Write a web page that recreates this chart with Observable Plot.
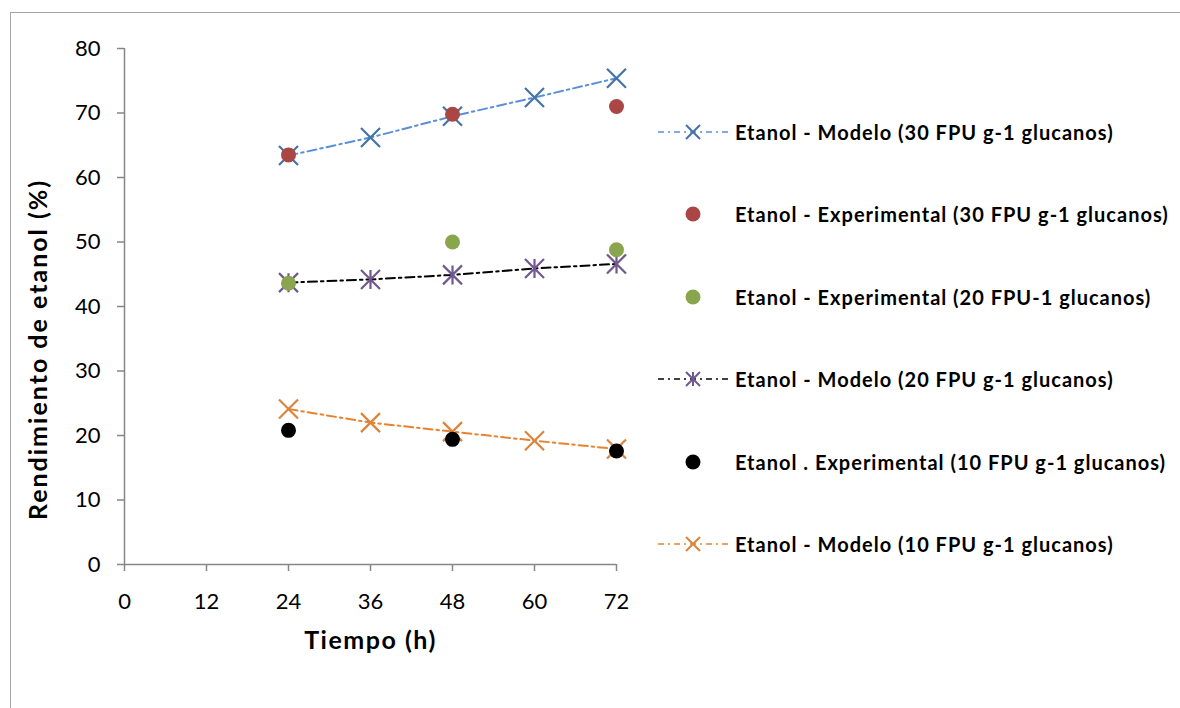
<!DOCTYPE html>
<html>
<head>
<meta charset="utf-8">
<script src="https://cdn.jsdelivr.net/npm/d3@7"></script>
<script src="https://cdn.jsdelivr.net/npm/@observablehq/plot@0.6"></script>
<style>
  body { margin: 0; background: #fff; font-family: Lato, "Open Sans", sans-serif; }
  #wrap { position: relative; width: 1180px; height: 708px; overflow: hidden; background: #fff; }
  #frame { position: absolute; left: 10px; top: 12px; right: -10px; bottom: -10px;
           border-left: 1.5px solid #a6a6a6; border-top: 1.5px solid #a6a6a6; }
  #chart { position: absolute; left: 0; top: 0; }
  #legend { position: absolute; left: 658px; top: 0; }
  .row { position: absolute; left: 0; display: flex; align-items: center; white-space: nowrap;
         font-weight: bold; font-size: 20px; letter-spacing: 1px; color: #000; height: 24px; }
  .row svg { display: block; margin-right: 7px; overflow: visible; }
</style>
</head>
<body>
<div id="wrap">
  <div id="frame"></div>
  <div id="chart"></div>
  <div id="legend"></div>
</div>
<script>
// Tiempo de fermentación (h)
const horasModelo = [24, 36, 48, 60, 72];
const horasExp = [24, 48, 72];
const ticksX = [0, 12, 24, 36, 48, 60, 72];
const ticksY = [0, 10, 20, 30, 40, 50, 60, 70, 80];

// Rendimiento de etanol (%)
const modelo30 = [63.4, 66.2, 69.5, 72.4, 75.4];
const exp30 = [63.5, 69.8, 71.0];
const exp20 = [43.6, 50.0, 48.8];
const modelo20 = [43.7, 44.2, 44.9, 45.9, 46.6];
const exp10 = [20.8, 19.4, 17.6];
const modelo10 = [24.1, 22.0, 20.6, 19.2, 17.9];

const nombres = [
  "Etanol - Modelo (30 FPU g-1 glucanos)",
  "Etanol - Experimental (30 FPU g-1 glucanos)",
  "Etanol - Experimental (20 FPU-1 glucanos)",
  "Etanol - Modelo (20 FPU g-1 glucanos)",
  "Etanol . Experimental (10 FPU g-1 glucanos)",
  "Etanol - Modelo (10 FPU g-1 glucanos)"
];

// X-shaped and asterisk markers; arm length equals the dot radius
const symCruz = {
  draw(ctx, size) {
    const r = Math.sqrt(size / Math.PI);
    ctx.moveTo(-r, -r); ctx.lineTo(r, r);
    ctx.moveTo(-r, r); ctx.lineTo(r, -r);
  }
};
const symAsterisco = {
  draw(ctx, size) {
    const r = Math.sqrt(size / Math.PI);
    ctx.moveTo(-r, -r); ctx.lineTo(r, r);
    ctx.moveTo(-r, r); ctx.lineTo(r, -r);
    ctx.moveTo(0, -r); ctx.lineTo(0, r);
  }
};

const series = [
  {nombre: nombres[0], horas: horasModelo, valores: modelo30, tipo: "modelo", linea: "#5b8fd6", marca: "#4572a7", sym: symCruz},
  {nombre: nombres[1], horas: horasExp, valores: exp30, tipo: "exp", marca: "#aa4643"},
  {nombre: nombres[2], horas: horasExp, valores: exp20, tipo: "exp", marca: "#89a54e"},
  {nombre: nombres[3], horas: horasModelo, valores: modelo20, tipo: "modelo", linea: "#000000", marca: "#71588f", sym: symAsterisco},
  {nombre: nombres[4], horas: horasExp, valores: exp10, tipo: "exp", marca: "#000000"},
  {nombre: nombres[5], horas: horasModelo, valores: modelo10, tipo: "modelo", linea: "#e9822f", marca: "#db843d", sym: symCruz}
];
const filas = s => s.horas.map((h, i) => ({hora: h, valor: s.valores[i]}));

const dash = "9,4,2.5,4";
const gris = "#868686";

const marks = [
  Plot.ruleY([0], {stroke: gris, strokeWidth: 1.5}),
  Plot.ruleX([0], {stroke: gris, strokeWidth: 1.5}),
  Plot.axisX({ticks: ticksX, tickSize: 7, tickPadding: 22, stroke: gris, strokeWidth: 1.5, fill: "#000", label: null, tickFormat: d => String(d)}),
  Plot.axisY({ticks: ticksY, tickSize: 7, tickPadding: 17, stroke: gris, strokeWidth: 1.5, fill: "#000", label: null, tickFormat: d => String(d)}),
  Plot.text(["Rendimiento de etanol (%)"], {frameAnchor: "left", rotate: -90, dx: -86, dy: 43, textAnchor: "middle", lineAnchor: "middle",
    fontWeight: "bold", fontSize: 25, style: "letter-spacing: 2px"}),
  Plot.text(["Tiempo (h)"], {frameAnchor: "bottom", dy: 76, textAnchor: "middle", lineAnchor: "middle", fontWeight: "bold", fontSize: 25})
];
// dash-dot model lines first
for (const s of series.filter(s => s.tipo === "modelo")) {
  marks.push(Plot.line(filas(s), {x: "hora", y: "valor", stroke: s.linea, strokeWidth: 2, strokeDasharray: dash}));
}
// model markers
for (const s of series.filter(s => s.tipo === "modelo")) {
  marks.push(Plot.dot(filas(s), {x: "hora", y: "valor", symbol: s.sym, r: 9.5, stroke: s.marca, strokeWidth: 2.2, fill: "none"}));
}
// experimental points on top
for (const s of series.filter(s => s.tipo === "exp")) {
  marks.push(Plot.dot(filas(s), {x: "hora", y: "valor", r: 7.5, fill: s.marca, stroke: "none"}));
}

const chart = Plot.plot({
  width: 650,
  height: 708,
  marginLeft: 124,
  marginRight: 34,
  marginTop: 48,
  marginBottom: 144,
  x: {domain: [0, 72]},
  y: {domain: [0, 80]},
  style: {fontFamily: "Lato, 'Open Sans', sans-serif", fontSize: "22px", color: "#000", background: "transparent", overflow: "visible"},
  marks
});
document.getElementById("chart").appendChild(chart);

// the axis titles are spaced a little wider, like the rest of the bold text
d3.select(chart).selectAll("text")
  .filter(function() { return this.textContent === "Tiempo (h)" || this.textContent === "Rendimiento de etanol (%)"; })
  .style("letter-spacing", function() { return this.textContent === "Tiempo (h)" ? "1.5px" : "2px"; });

// legend rows to the right of the plot
const legend = d3.select("#legend");
series.forEach((s, i) => {
  const row = legend.append("div").attr("class", "row").style("top", (132 + i * 82.4 - 12) + "px");
  const sw = row.append("svg").attr("width", 70).attr("height", 24);
  if (s.tipo === "modelo") {
    sw.append("line").attr("x1", 0).attr("x2", 70).attr("y1", 12).attr("y2", 12)
      .attr("stroke", s.linea).attr("stroke-width", 1.5).attr("stroke-dasharray", "6,4,2,4");
    const path = d3.path();
    s.sym.draw(path, Math.PI * 7 * 7);
    sw.append("path").attr("d", path.toString()).attr("transform", "translate(35,12)")
      .attr("stroke", s.marca).attr("stroke-width", 2).attr("fill", "none");
  } else {
    sw.append("circle").attr("cx", 35).attr("cy", 12).attr("r", 7.5).attr("fill", s.marca);
  }
  row.append("span").text(s.nombre);
});
</script>
</body>
</html>
